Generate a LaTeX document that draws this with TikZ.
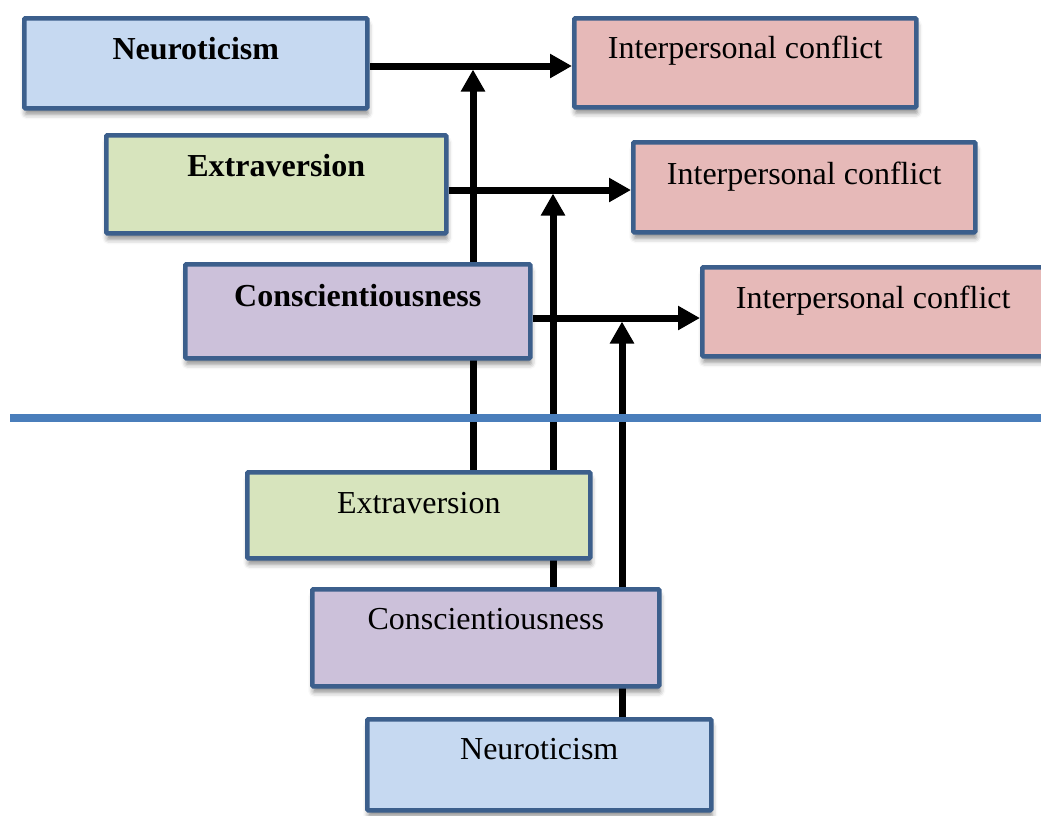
\documentclass[tikz,border=0pt]{standalone}
\usepackage{fontspec}
\setmainfont{Liberation Serif}
\usetikzlibrary{arrows.meta,shadows.blur}
\pgfdeclarelayer{background}
\pgfsetlayers{background,main}
\definecolor{edgeblue}{HTML}{3C5F8C}
\definecolor{neurofill}{HTML}{C6D9F1}
\definecolor{extrafill}{HTML}{D7E4BD}
\definecolor{consfill}{HTML}{CCC1DA}
\definecolor{conffill}{HTML}{E6B9B8}
\definecolor{splitblue}{HTML}{4A7EBB}
\tikzset{
  x=1pt, y=-1pt,
  box/.style={draw=edgeblue, line width=4.5pt, rounded corners=1pt, anchor=north west,
    inner ysep=0pt, inner xsep=0pt, font=\fontsize{32}{38}\selectfont,
    blur shadow={shadow xshift=1pt, shadow yshift=-6pt, shadow blur radius=5pt, shadow opacity=45}},
  arr/.style={line width=7pt, -{Triangle[length=22pt,width=23pt]}},
  split/.style={draw=splitblue, line width=8pt}
}
\begin{document}
\begin{tikzpicture}
\useasboundingbox (0,0) rectangle (1041,815);
% upper row: the three traits and their outcomes
\node[box, fill=neurofill, minimum width=343pt, text height=41pt, text depth=49pt, font=\fontsize{32}{38}\selectfont\bfseries] (n1) at (22,16) {Neuroticism};
\node[box, fill=extrafill, minimum width=340pt, text height=41pt, text depth=57pt, font=\fontsize{32}{38}\selectfont\bfseries] (e1) at (104,133) {Extraversion};
\node[box, fill=consfill, minimum width=345pt, text height=42pt, text depth=52pt, font=\fontsize{32}{38}\selectfont\bfseries] (c1) at (183,262) {Conscientiousness};
\node[box, fill=conffill, minimum width=342pt, text height=40pt, text depth=49pt] (i1) at (572,16) {Interpersonal conflict};
\node[box, fill=conffill, minimum width=342pt, text height=42pt, text depth=48pt] (i2) at (631,140) {Interpersonal conflict};
\node[box, fill=conffill, minimum width=342pt, text height=41pt, text depth=48pt] (i3) at (700,265) {Interpersonal conflict};
% lower row: the moderating traits
\node[box, fill=extrafill, minimum width=343pt, text height=41pt, text depth=45pt] (e2) at (245,470) {Extraversion};
\node[box, fill=consfill, minimum width=347pt, text height=40pt, text depth=57pt] (c2) at (310,587) {Conscientiousness};
\node[box, fill=neurofill, minimum width=344pt, text height=40pt, text depth=51pt] (n2) at (365,717) {Neuroticism};
% junctions where the moderators meet the main paths
\coordinate (j1) at (473,66);
\coordinate (j2) at (553,190);
\coordinate (j3) at (622,318);
\begin{pgfonlayer}{background}
  \draw[arr] (n1.east |- j1) -- (i1.west |- j1);
  \draw[arr] (e1.east |- j2) -- (i2.west |- j2);
  \draw[arr] (c1.east |- j3) -- (i3.west |- j3);
  \draw[arr] (e2.north -| j1) -- ([yshift=-3.5pt]j1);
  \draw[arr] (c2.north -| j2) -- ([yshift=-3.5pt]j2);
  \draw[arr] (n2.north -| j3) -- ([yshift=-3.5pt]j3);
\end{pgfonlayer}
% separator between the two rows
\coordinate (s0) at (10,418);
\coordinate (s1) at (1041,418);
\draw[split] (s0) -- (s1);
\end{tikzpicture}
\end{document}
